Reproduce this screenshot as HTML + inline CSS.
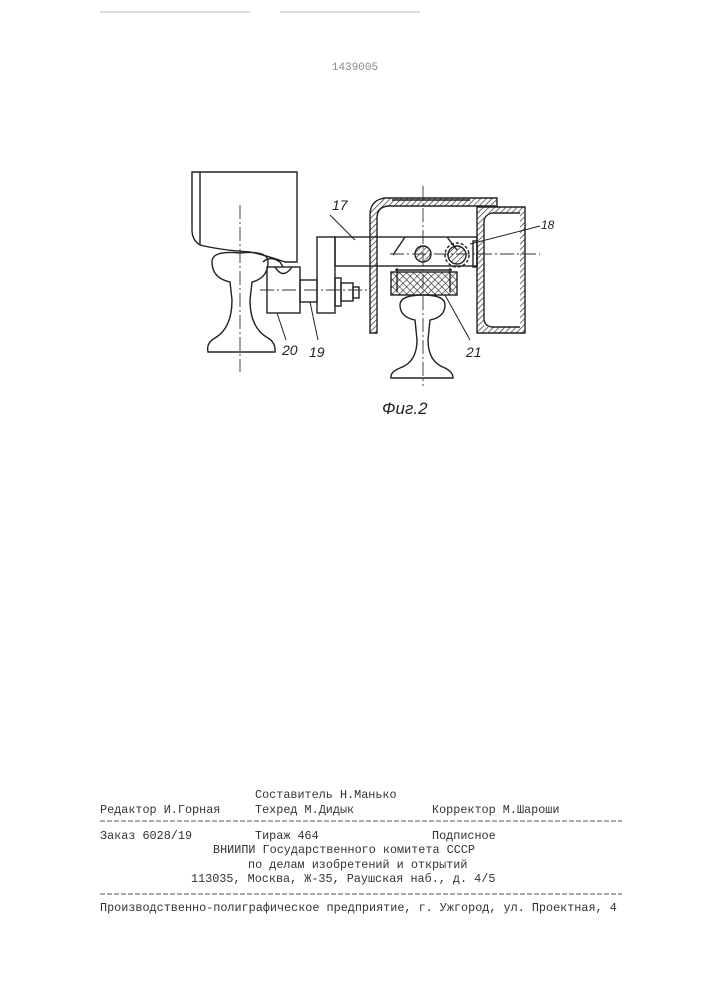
<!DOCTYPE html>
<html><head><meta charset="utf-8"><style>
html,body{margin:0;padding:0;background:#fff;}
body{width:707px;height:1000px;position:relative;overflow:hidden;}
svg{position:absolute;left:0;top:0;}
.t{position:absolute;font-family:"Liberation Mono",monospace;font-size:11.8px;color:#333;white-space:pre;line-height:1;}
</style></head><body>
<svg width="707" height="1000" viewBox="0 0 707 1000">
<defs>
<pattern id="h" width="4" height="4" patternUnits="userSpaceOnUse" patternTransform="rotate(45)"><line x1="0" y1="0" x2="0" y2="4" stroke="#222" stroke-width="1.3"/></pattern>
<pattern id="x" width="5" height="5" patternUnits="userSpaceOnUse" patternTransform="rotate(45)"><path d="M0 0V5M0 0H5" stroke="#222" stroke-width="1.2"/></pattern>
</defs>
<g stroke="#bbb" stroke-width="1"><line x1="100" y1="12" x2="250" y2="12"/><line x1="280" y1="12" x2="420" y2="12"/></g>
<text x="355" y="70" font-family="Liberation Mono,monospace" font-size="11" fill="#888" text-anchor="middle">1439005</text>
<g fill="none" stroke="#222" stroke-width="1.4">
<path d="M192 172 H297 V262 H285 Q265 255 250 252 Q220 250 200 245 Q192 240 192 230 Z"/>
<line x1="200" y1="172" x2="200" y2="245"/>
<path d="M240 253 Q268 250 268 262 Q268 278 252 282 L250 300 Q250 328 268 338 Q276 343 275 352 H208 Q206 343 215 338 Q232 328 232 300 L230 282 Q212 278 212 262 Q212 250 240 253 Z"/>
<path d="M263 262 Q270 255 280 262 L283 267"/>
<rect x="267" y="267" width="33" height="46"/>
<path d="M275 267 Q283 280 292 267"/>
<rect x="300" y="280" width="17" height="22"/>
<rect x="317" y="237" width="18" height="76"/>
<rect x="335" y="278" width="6" height="28"/><rect x="341" y="283" width="12" height="18"/><rect x="353" y="287" width="6" height="11"/>
<rect x="335" y="237" width="142" height="29"/>
<path d="M370 333 V215 Q370 200 385 198 H497 V206 H388 Q377 207 377 218 V333 Z" fill="url(#h)"/>
<line x1="392" y1="200" x2="470" y2="200"/>
<path d="M477 207 H525 V333 H477 Z" fill="url(#h)"/>
<rect x="484" y="213" width="36" height="114" fill="#fff" stroke="none"/>
<path d="M484 222 Q484 215 492 213 H520 M484 318 Q484 326 492 327 H520 M484 222 V318"/>
<rect x="473" y="241" width="4" height="26"/>
<path d="M393 255 L405 237 M447 237 L457 250"/>
<circle cx="423" cy="254" r="8" fill="url(#h)"/>
<circle cx="457" cy="255" r="9" fill="url(#h)"/>
<circle cx="457" cy="255" r="12" stroke-dasharray="3 2"/>
<rect x="391" y="272" width="66" height="23" fill="url(#x)"/>
<path d="M395 270 H452 M397 268 V292 M450 268 V292"/>
<path d="M423 295 Q445 295 445 305 Q445 317 430 320 L428 340 Q428 362 445 368 Q453 372 453 378 H391 Q390 372 400 368 Q417 362 417 340 L415 320 Q400 317 400 305 Q400 295 423 295 Z"/>
<line x1="330" y1="215" x2="355" y2="240" stroke-width="1"/>
<line x1="540" y1="226" x2="470" y2="244" stroke-width="1"/>
<line x1="286" y1="340" x2="277" y2="313" stroke-width="1"/>
<line x1="318" y1="340" x2="310" y2="302" stroke-width="1"/>
<line x1="470" y1="340" x2="445" y2="295" stroke-width="1"/>
</g>
<g stroke="#333" stroke-width="0.9" stroke-dasharray="14 3 2 3" fill="none">
<line x1="240" y1="205" x2="240" y2="372"/>
<line x1="423" y1="186" x2="423" y2="386"/>
<line x1="260" y1="290" x2="370" y2="290"/>
<line x1="390" y1="254" x2="540" y2="254"/>
</g>
<g font-family="Liberation Sans,sans-serif" font-style="italic" font-size="14" fill="#222">
<text x="332" y="210">17</text><text x="541" y="229" font-size="12">18</text>
<text x="282" y="355">20</text><text x="309" y="357">19</text><text x="466" y="357">21</text>
<text x="382" y="414" font-size="17">Фиг.2</text>
</g>
<g stroke="#555" stroke-width="1" stroke-dasharray="5 2">
<line x1="100" y1="821" x2="622" y2="821"/><line x1="100" y1="894" x2="622" y2="894"/>
</g>
</svg>
<div class="t" style="left:255px;top:790px">Составитель Н.Манько</div>
<div class="t" style="left:100px;top:805px">Редактор И.Горная</div>
<div class="t" style="left:255px;top:805px">Техред М.Дидык</div>
<div class="t" style="left:432px;top:805px">Корректор М.Шароши</div>
<div class="t" style="left:100px;top:831px">Заказ 6028/19</div>
<div class="t" style="left:255px;top:831px">Тираж 464</div>
<div class="t" style="left:432px;top:831px">Подписное</div>
<div class="t" style="left:213px;top:845px">ВНИИПИ Государственного комитета СССР</div>
<div class="t" style="left:248px;top:860px">по делам изобретений и открытий</div>
<div class="t" style="left:191px;top:874px">113035, Москва, Ж-35, Раушская наб., д. 4/5</div>
<div class="t" style="left:100px;top:903px">Производственно-полиграфическое предприятие, г. Ужгород, ул. Проектная, 4</div>
</body></html>
